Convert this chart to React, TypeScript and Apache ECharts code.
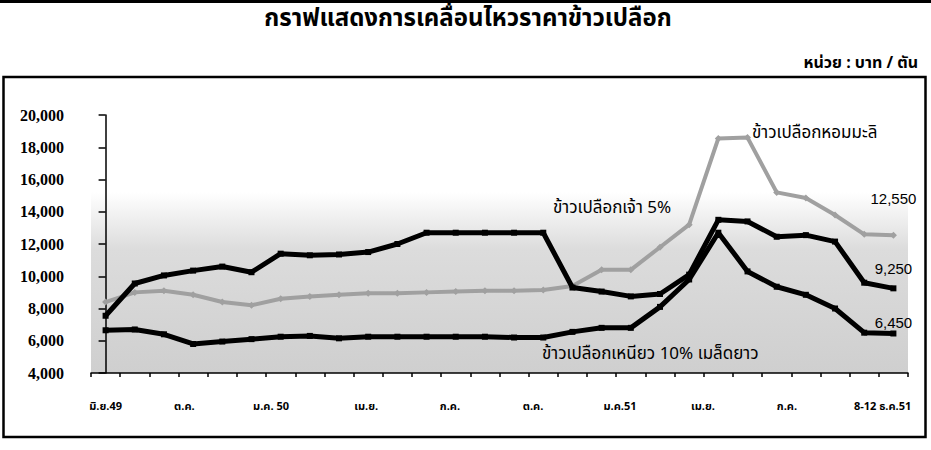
import React, { useEffect, useRef } from "react";
import * as echarts from "echarts";

// ---- data ----
const xLabels = ["มิ.ย.49", "ต.ค.", "ม.ค. 50", "เม.ย.", "ก.ค.", "ต.ค.", "ม.ค.51", "เม.ย.", "ก.ค.", "8-12 ธ.ค.51"];
const xLabelAt = [0, 2.7, 5.67, 8.93, 11.8, 14.65, 17.63, 20.47, 23.35, 26.63];
const pointCount = 28;

// ข้าวเปลือกหอมมะลิ (gray)
const jasmine = [8400, 9000, 9100, 8850, 8400, 8200, 8600, 8750, 8850, 8950, 8950, 9000, 9050, 9100, 9100, 9150, 9400, 10400, 10400, 11800, 13200, 18550, 18600, 15200, 14850, 13800, 12600, 12550];
// ข้าวเปลือกเจ้า 5% (black)
const white5 = [7550, 9550, 10050, 10350, 10600, 10250, 11400, 11300, 11350, 11500, 12000, 12700, 12700, 12700, 12700, 12700, 9300, 9050, 8750, 8900, 10100, 13500, 13400, 12450, 12550, 12150, 9600, 9250];
// ข้าวเปลือกเหนียว 10% เมล็ดยาว (black, lower)
const glutinous = [6650, 6700, 6400, 5800, 5950, 6100, 6250, 6300, 6150, 6250, 6250, 6250, 6250, 6250, 6200, 6200, 6550, 6800, 6800, 8100, 9800, 12700, 10300, 9350, 8850, 8000, 6500, 6450];

const yMin = 4000;
const yMax = 20000;
const yStep = 2000;

const titleText = "กราฟแสดงการเคลื่อนไหวราคาข้าวเปลือก";
const unitText = "หน่วย : บาท / ตัน";
const nameJasmine = "ข้าวเปลือกหอมมะลิ";
const nameWhite = "ข้าวเปลือกเจ้า 5%";
const nameGlut = "ข้าวเปลือกเหนียว 10% เมล็ดยาว";

const THAI = "Tahoma, 'Noto Sans Thai', Loma, Garuda, 'Noto Sans', sans-serif";
const SERIF = "'Liberation Serif', 'DejaVu Serif', serif";

const fmt = (v: number) => v.toLocaleString("en-US");

function toPairs(arr: number[], labelDistance: number) {
  return arr.map((v, i) => {
    if (i === arr.length - 1) {
      return {
        value: [i, v],
        label: {
          show: true,
          position: "top",
          distance: labelDistance,
          formatter: () => fmt(v),
          color: "#000",
          fontFamily: "'Liberation Sans', Arial, sans-serif",
          fontSize: 15,
        },
      };
    }
    return { value: [i, v] };
  });
}

export default function App() {
  const ref = useRef<HTMLDivElement>(null);
  useEffect(() => {
    if (!ref.current) return;
    const chart = echarts.init(ref.current, undefined, { renderer: "svg" });
    const ticks = Array.from({ length: pointCount + 1 }, (_, k) => k - 0.5);
    chart.setOption({
      animation: false,
      backgroundColor: "#fff",
      grid: {
        left: 91,
        right: 23,
        top: 115,
        bottom: 77,
        show: true,
        borderWidth: 0,
        backgroundColor: new echarts.graphic.LinearGradient(0, 0, 0, 1, [
          { offset: 0, color: "#ffffff" },
          { offset: 0.3, color: "#ffffff" },
          { offset: 0.42, color: "#ececec" },
          { offset: 0.52, color: "#dcdcdc" },
          { offset: 1, color: "#cfcfcf" },
        ]),
      },
      xAxis: {
        type: "value",
        min: -0.5,
        max: pointCount - 0.5,
        splitLine: { show: false },
        axisLine: { show: true, onZero: false, lineStyle: { color: "#000", width: 1.5 } },
        axisTick: { show: true, customValues: ticks, length: 4, lineStyle: { color: "#000", width: 1.5 } },
        axisLabel: {
          customValues: xLabelAt,
          margin: 28,
          color: "#000",
          fontFamily: THAI,
          fontWeight: "bold",
          fontSize: 11,
          formatter: (val: number) => {
            let best = 0;
            let bd = Infinity;
            xLabelAt.forEach((p, k) => {
              const d = Math.abs(p - val);
              if (d < bd) {
                bd = d;
                best = k;
              }
            });
            return xLabels[best];
          },
        },
      },
      yAxis: {
        type: "value",
        min: yMin,
        max: yMax,
        interval: yStep,
        splitLine: { show: false },
        axisLine: { show: true, lineStyle: { color: "#000", width: 1.5 } },
        axisTick: { show: true, length: 7, lineStyle: { color: "#000", width: 1.5 } },
        axisLabel: {
          margin: 27,
          color: "#000",
          fontFamily: SERIF,
          fontWeight: "bold",
          fontSize: 16,
          formatter: (v: number) => fmt(v),
        },
      },
      series: [
        {
          name: nameGlut,
          type: "line",
          data: toPairs(glutinous, 0),
          symbol: "rect",
          symbolSize: 6,
          lineStyle: { color: "#000", width: 5 },
          itemStyle: { color: "#000" },
          z: 3,
        },
        {
          name: nameWhite,
          type: "line",
          data: toPairs(white5, 9),
          symbol: "rect",
          symbolSize: 6,
          lineStyle: { color: "#000", width: 5 },
          itemStyle: { color: "#000" },
          z: 4,
        },
        {
          name: nameJasmine,
          type: "line",
          data: toPairs(jasmine, 26),
          symbol: "diamond",
          symbolSize: 7,
          lineStyle: { color: "#a0a0a0", width: 4 },
          itemStyle: { color: "#a0a0a0" },
          z: 2,
        },
      ],
      graphic: [
        {
          type: "line",
          shape: { x1: 0, y1: 1.5, x2: 931, y2: 1.5 },
          style: { stroke: "#000", lineWidth: 3 },
        },
        {
          type: "text",
          x: 468,
          y: 19,
          style: {
            text: titleText,
            fontFamily: THAI,
            fontWeight: "bold",
            fontSize: 24,
            fill: "#000",
            align: "center",
            verticalAlign: "middle",
          },
        },
        {
          type: "text",
          x: 918,
          y: 63,
          style: {
            text: unitText,
            fontFamily: THAI,
            fontWeight: "bold",
            fontSize: 16,
            fill: "#000",
            align: "right",
            verticalAlign: "middle",
          },
        },
        {
          type: "rect",
          shape: { x: 3.5, y: 77, width: 922, height: 360 },
          style: { fill: "none", stroke: "#000", lineWidth: 2.5 },
        },
        {
          type: "text",
          x: 752,
          y: 133,
          z: 10,
          style: { text: nameJasmine, fontFamily: THAI, fontSize: 17, fill: "#000", align: "left", verticalAlign: "middle" },
        },
        {
          type: "text",
          x: 553,
          y: 208,
          z: 10,
          style: { text: nameWhite, fontFamily: THAI, fontSize: 17, fill: "#000", align: "left", verticalAlign: "middle" },
        },
        {
          type: "text",
          x: 542,
          y: 354,
          z: 10,
          style: { text: nameGlut, fontFamily: THAI, fontSize: 17, fill: "#000", align: "left", verticalAlign: "middle" },
        },
      ],
    });
    return () => chart.dispose();
  }, []);
  return (
    <div
      ref={ref}
      style={{ position: "fixed", left: 0, top: 0, width: 931, height: 450, background: "#fff" }}
    />
  );
}
